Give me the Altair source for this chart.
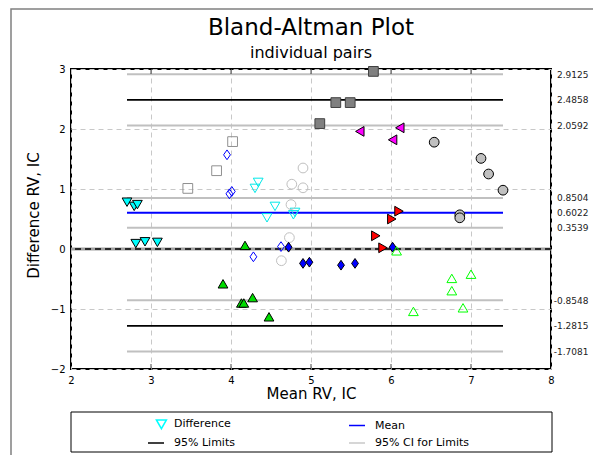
import altair as alt
import pandas as pd

FONT = "DejaVu Sans"

# ---- data ----
subject = ([1] * 6 + [2] * 6 + [3] * 3 + [4] * 5 + [5] * 6 + [6] * 4 +
           [7] * 3 + [8] * 6 + [9] * 4 + [10] * 6 + [11] * 6 + [12] * 6)
mean_rv = [2.70, 2.79, 2.83, 2.81, 2.925, 3.08,
           4.34, 4.30, 4.55, 4.45, 4.80, 4.78,
           3.46, 3.82, 4.02,
           3.95, 4.01, 3.98, 4.28, 4.625,
           4.76, 4.90, 4.90, 4.75, 4.73, 4.63,
           5.78, 5.31, 5.49, 5.11,
           5.61, 6.11, 6.02,
           6.54, 7.125, 7.22, 7.40, 6.86, 6.86,
           6.10, 6.01, 5.81, 5.90,
           4.72, 4.90, 4.98, 5.375, 5.55, 6.02,
           4.175, 3.90, 4.13, 4.16, 4.27, 4.475,
           6.07, 6.76, 6.76, 7.00, 6.90, 6.28]
diff_rv = [0.78, 0.71, 0.74, 0.09, 0.12, 0.11,
           1.11, 1.01, 0.71, 0.52, 0.61, 0.57,
           1.01, 1.305, 1.79,
           1.57, 0.96, 0.92, -0.13, 0.04,
           1.08, 1.02, 1.35, 0.74, 0.19, -0.195,
           2.96, 2.44, 2.44, 2.09,
           1.96, 2.02, 1.82,
           1.78, 1.51, 1.25, 0.98, 0.57, 0.52,
           0.63, 0.50, 0.22, 0.02,
           0.03, -0.24, -0.22, -0.27, -0.24, 0.03,
           0.06, -0.58, -0.90, -0.90, -0.81, -1.13,
           -0.03, -0.49, -0.695, -0.42, -0.98, -1.04]

mean_diff = [0.6022]
limits = [2.4858, -1.2815]
limits_ci = [2.9125, 2.0592, 0.8504, 0.3539, -0.8548, -1.7081]
x_ticks = [2, 3, 4, 5, 6, 7, 8]
inner_ticks = [3, 4, 5, 6, 7]
y_ticks = [-2, -1, 0, 1, 2, 3]
# column-major order: first column Difference / 95% Limits, second Mean / 95% CI
legend_items = ["Difference", "95% Limits", "Mean", "95% CI for Limits"]

# ---- styling per subject ----
subjects = list(range(1, 13))
DIAMOND = "M0,-1L0.7,0L0,1L-0.7,0Z"
LEG_TRI = "M0.05,-0.55L1.3,-0.55L0.675,0.55Z"
shape_range = ["triangle-down", "triangle-down", "square", DIAMOND, "circle", "square",
               "triangle-left", "circle", "triangle-right", DIAMOND, "triangle-up", "triangle-up"]
fill_range = ["#00ffff", "transparent", "transparent", "transparent", "transparent", "#808080",
              "#ff00ff", "#c0c0c0", "#ff0000", "#0000ff", "#00dd00", "transparent"]
stroke_range = ["#000000", "#00e8e8", "#909090", "#0000ff", "#c0c0c0", "#404040",
                "#000000", "#000000", "#000000", "#000000", "#000000", "#00ff00"]

pts = pd.DataFrame({"mean": mean_rv, "diff": diff_rv, "subject": subject})
x_lo, x_hi = min(mean_rv), max(mean_rv)

xs = alt.Scale(domain=[2, 8], nice=False, zero=False)
ys = alt.Scale(domain=[-2, 3], nice=False, zero=False)

x_axis = alt.Axis(values=x_ticks, title="Mean RV, IC", grid=True, gridDash=[5, 4],
                  gridColor="#c8c8c8", gridWidth=1, domain=False, ticks=False, tickSize=0,
                  labelPadding=6, labelFlush=False, labelFont=FONT, labelFontSize=10,
                  labelColor="black", titleFont=FONT, titleFontSize=15,
                  titleFontWeight="normal", titleColor="black", titleX=240, titleY=29,
                  titleBaseline="alphabetic", titleAlign="center")
y_axis = alt.Axis(values=y_ticks, title="Difference RV, IC", grid=True, gridDash=[5, 4],
                  gridColor="#c8c8c8", gridWidth=1, domain=False, ticks=False, tickSize=0,
                  labelPadding=6, labelFont=FONT, labelFontSize=10, labelColor="black",
                  labelBaseline="middle", titleFont=FONT, titleFontSize=15,
                  titleFontWeight="normal", titleColor="black", titleAngle=270,
                  titleX=-38, titleY=146, titleAlign="center", titleBaseline="middle")
right_axis = alt.Axis(orient="right", values=limits_ci + limits + mean_diff,
                      labelExpr="replace(format(datum.value, '.4f'), '\u2212', '-')",
                      title=None, grid=False, domain=False, ticks=False, tickSize=0,
                      labelPadding=37, labelAlign="right", labelBaseline="middle",
                      labelFont=FONT, labelFontSize=9, labelColor="#222222",
                      labelOverlap=False)


def hline_df(values):
    return pd.DataFrame({"v": values, "x0": x_lo, "x1": x_hi})


frame = alt.Chart(pd.DataFrame({"a": [0]})).mark_rect(
    fill="transparent", stroke="#808080", strokeWidth=1.5).encode(
    x=alt.value(-60), x2=alt.value(700), y=alt.value(-60), y2=alt.value(700))

ci_layer = alt.Chart(hline_df(limits_ci)).mark_rule(
    color="#c0c0c0", strokeWidth=2).encode(
    x=alt.X("x0:Q", scale=xs, axis=None), x2="x1:Q",
    y=alt.Y("v:Q", scale=ys, axis=right_axis))
loa_layer = alt.Chart(hline_df(limits)).mark_rule(
    color="black", strokeWidth=1.8).encode(
    x=alt.X("x0:Q", scale=xs, axis=None), x2="x1:Q",
    y=alt.Y("v:Q", scale=ys, axis=None))
mean_layer = alt.Chart(hline_df(mean_diff)).mark_rule(
    color="#0000ff", strokeWidth=2).encode(
    x=alt.X("x0:Q", scale=xs, axis=None), x2="x1:Q",
    y=alt.Y("v:Q", scale=ys, axis=None))

zero_df = pd.DataFrame({"z": [0]})
zero_band = alt.Chart(zero_df).mark_rule(color="#a0a0a0", strokeWidth=3).encode(
    y=alt.Y("z:Q", scale=ys, axis=None))
zero_dash = alt.Chart(zero_df).mark_rule(color="black", strokeWidth=1.5,
                                         strokeDash=[6, 4]).encode(
    y=alt.Y("z:Q", scale=ys, axis=None))

points = alt.Chart(pts).mark_point(size=95, strokeWidth=1, opacity=1).encode(
    x=alt.X("mean:Q", scale=xs, axis=x_axis),
    y=alt.Y("diff:Q", scale=ys, axis=y_axis),
    shape=alt.Shape("subject:N", scale=alt.Scale(domain=subjects, range=shape_range), legend=None),
    fill=alt.Fill("subject:N", scale=alt.Scale(domain=subjects, range=fill_range), legend=None),
    stroke=alt.Stroke("subject:N", scale=alt.Scale(domain=subjects, range=stroke_range), legend=None),
)

tick_df = pd.DataFrame({"t": inner_ticks})
ticks_bottom = alt.Chart(tick_df).mark_tick(color="black", thickness=1, size=5).encode(
    x=alt.X("t:Q", scale=xs, axis=None), y=alt.value(297.5))
ticks_top = alt.Chart(tick_df).mark_tick(color="black", thickness=1, size=5).encode(
    x=alt.X("t:Q", scale=xs, axis=None), y=alt.value(2.5))

leg = alt.Legend(title=None, orient="none", legendX=76, legendY=346, columns=2,
                 columnPadding=78, rowPadding=2, padding=0, labelFont=FONT,
                 labelFontSize=11, labelColor="black", labelOffset=9, symbolOpacity=1,
                 symbolStrokeWidth=1.5, gridAlign="all", labelLimit=250)
legend_df = pd.DataFrame({"item": legend_items})
legend_layer = alt.Chart(legend_df).mark_point(filled=False, opacity=0, strokeWidth=1.5).encode(
    x=alt.value(0), y=alt.value(0),
    color=alt.Color("item:N", scale=alt.Scale(domain=legend_items,
                    range=["#00ffff", "#000000", "#0000ff", "#c8c8c8"]), legend=leg),
    shape=alt.Shape("item:N", scale=alt.Scale(domain=legend_items,
                    range=[LEG_TRI, "stroke", "stroke", "stroke"]), legend=leg),
    size=alt.Size("item:N", scale=alt.Scale(domain=legend_items,
                  range=[256, 256, 256, 256]), legend=leg),
)
legend_box = alt.Chart(pd.DataFrame({"a": [0]})).mark_rect(
    fill="transparent", stroke="black", strokeWidth=1).encode(
    x=alt.value(0), x2=alt.value(481), y=alt.value(343), y2=alt.value(383))

chart = alt.layer(
    frame, zero_band, ci_layer, loa_layer, mean_layer, zero_dash,
    points, ticks_bottom, ticks_top, legend_layer, legend_box
).resolve_scale(
    shape="independent", fill="independent", stroke="independent",
    color="independent", size="independent"
).resolve_axis(x="independent", y="independent").properties(
    width=480, height=300,
    title=alt.TitleParams(text="Bland-Altman Plot", subtitle="individual pairs",
                          font=FONT, fontSize=23, fontWeight="normal", color="black",
                          subtitleFont=FONT, subtitleFontSize=16, subtitleColor="black",
                          subtitlePadding=5, offset=-53, anchor="middle", frame="group"),
    padding={"left": 63, "top": 61, "right": 42, "bottom": 86},
    autosize=alt.AutoSizeParams(type="none"),
    background="white",
).configure_view(stroke="black", strokeWidth=2)

chart.save("out.html", embed_options={"renderer": "svg", "actions": False})
